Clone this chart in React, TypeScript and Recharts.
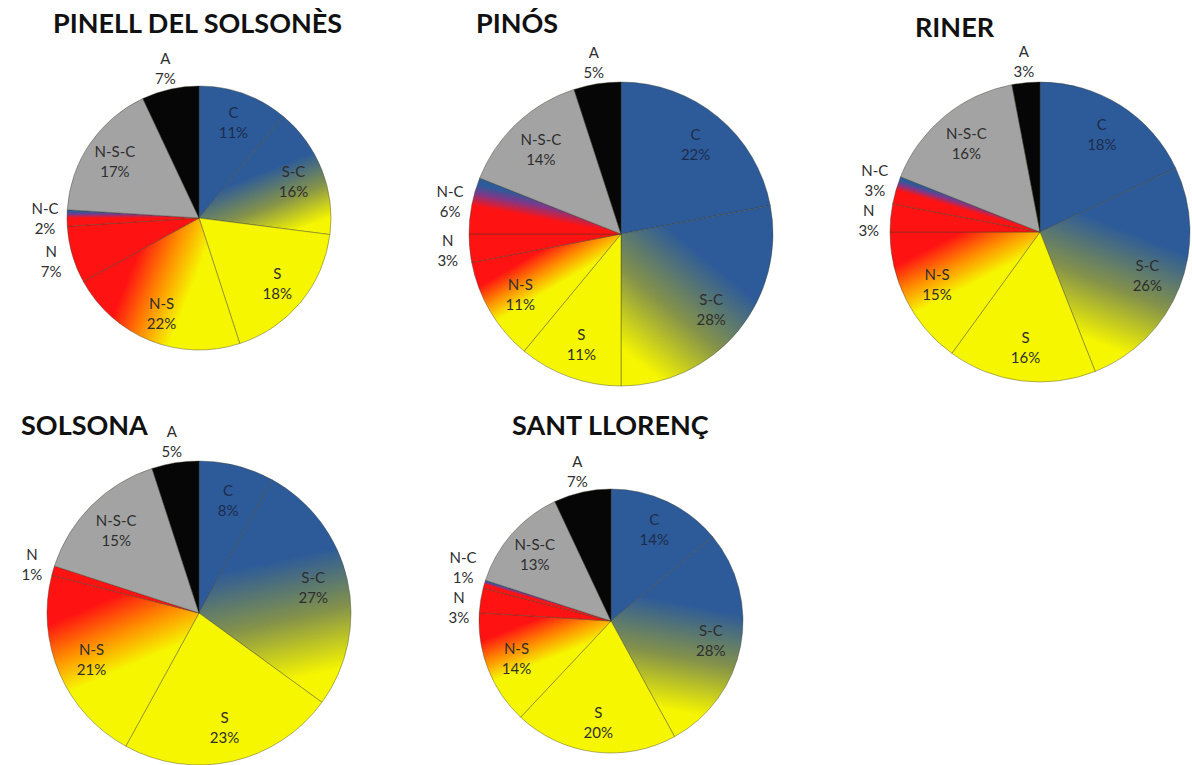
import { PieChart, Pie, Cell } from 'recharts';

const CATEGORIES = ['C', 'S-C', 'S', 'N-S', 'N', 'N-C', 'N-S-C', 'A'];
const TOWNS = ['PINELL DEL SOLSONÈS', 'PINÓS', 'RINER', 'SOLSONA', 'SANT LLORENÇ'];

// percentages per town, same order as CATEGORIES
const PINELL = [11, 16, 18, 22, 7, 2, 17, 7];
const PINOS = [22, 28, 11, 11, 3, 6, 14, 5];
const RINER = [18, 26, 16, 15, 3, 3, 16, 3];
const SOLSONA = [8, 27, 23, 21, 1, 0, 15, 5];
const SANT_LLORENC = [14, 28, 20, 14, 3, 1, 13, 7];
const VALUES = [PINELL, PINOS, RINER, SOLSONA, SANT_LLORENC];

const W = 1192;
const H = 765;
const FONT = 'Lato, "Open Sans", sans-serif';

const LAYOUT = [
  { cx: 199, cy: 218, r: 132, tx: 53, ty: 33 },
  { cx: 621, cy: 234, r: 152, tx: 476, ty: 33 },
  { cx: 1040, cy: 232, r: 150, tx: 915, ty: 37 },
  { cx: 199, cy: 613, r: 152, tx: 21, ty: 435 },
  { cx: 611, cy: 621, r: 132, tx: 512, ty: 435 },
];

const BLUE = '#2d5b99';
const YELLOW = '#f6f600';
const RED = '#ff1212';
const GRAY = '#a3a3a3';
const BLACK = '#060606';
const OLIVE = '#84924a';
const ORANGE = '#ff8a00';

const SOLID: Record<string, string> = { C: BLUE, S: YELLOW, N: RED, 'N-S-C': GRAY, A: BLACK };
// angular blends: colour at the start edge -> colour at the end edge (clockwise)
const BLENDS: Record<string, [number, string][]> = {
  'S-C': [[0, BLUE], [0.3, BLUE], [0.65, OLIVE], [1, YELLOW]],
  'N-S': [[0, YELLOW], [0.35, YELLOW], [0.6, ORANGE], [0.85, RED], [1, RED]],
  'N-C': [[0, RED], [0.5, RED], [0.8, '#7a3a8a'], [1, BLUE]],
};

const OUTSIDE_BELOW = 8;
const MIN_GAP = 40;

const polar = (cx: number, cy: number, r: number, deg: number) => {
  const a = (deg * Math.PI) / 180;
  return { x: cx + r * Math.cos(a), y: cy - r * Math.sin(a) };
};

const pieData = (vals: number[]) =>
  CATEGORIES.map((name, i) => ({ name, value: vals[i] })).filter((d) => d.value > 0);

const angles = (vals: number[]) => {
  const data = pieData(vals);
  const total = data.reduce((s, d) => s + d.value, 0);
  let cum = 0;
  return data.map((d) => {
    const s = 90 - (360 * cum) / total;
    cum += d.value;
    const e = 90 - (360 * cum) / total;
    return { name: d.name, value: d.value, s, e, mid: (s + e) / 2 };
  });
};

// place small-slice labels outside and spread them apart when they collide
const outsidePositions = (p: number) => {
  const { cx, cy, r } = LAYOUT[p];
  const items = angles(VALUES[p])
    .filter((a) => a.value < OUTSIDE_BELOW)
    .map((a) => ({ name: a.name, ...polar(cx, cy, r + 22, a.mid) }));
  const sides = [items.filter((i) => i.x < cx), items.filter((i) => i.x >= cx)];
  sides.forEach((side) => {
    side.sort((a, b) => a.y - b.y);
    for (let k = 0; k < 10; k++) {
      for (let j = 1; j < side.length; j++) {
        const gap = side[j].y - side[j - 1].y;
        if (gap < MIN_GAP) {
          const d = (MIN_GAP - gap) / 2;
          side[j - 1].y -= d;
          side[j].y += d;
        }
      }
    }
  });
  const map: Record<string, { x: number; y: number }> = {};
  items.forEach((i) => (map[i.name] = { x: i.x, y: i.y }));
  return map;
};

const OUTSIDE = VALUES.map((_, p) => outsidePositions(p));

const gradId = (p: number, name: string) => `g${p}-${name.replace(/-/g, '')}`;

const fillFor = (p: number, name: string) => SOLID[name] ?? `url(#${gradId(p, name)})`;

const makeLabel = (p: number) => (props: any) => {
  const { cx, cy, midAngle, outerRadius, name, value } = props;
  if (!value) return null;
  const out = OUTSIDE[p][name];
  const pt = out ?? polar(cx, cy, outerRadius * 0.77, midAngle);
  const ink = name === 'C' ? '#1c2c4c' : '#2e2e2e';
  return (
    <text x={pt.x} y={pt.y - 4} textAnchor="middle" fontFamily={FONT} fontSize={15} fill={ink}>
      <tspan x={pt.x}>{name}</tspan>
      <tspan x={pt.x} dy={20}>{value}%</tspan>
    </text>
  );
};

function Gradients() {
  return (
    <defs>
      {VALUES.map((vals, p) => {
        const { cx, cy, r } = LAYOUT[p];
        return angles(vals)
          .filter((a) => BLENDS[a.name])
          .map((a) => {
            const p1 = polar(cx, cy, r * 0.75, a.s);
            const p2 = polar(cx, cy, r * 0.75, a.e);
            return (
              <linearGradient
                key={gradId(p, a.name)}
                id={gradId(p, a.name)}
                gradientUnits="userSpaceOnUse"
                x1={p1.x}
                y1={p1.y}
                x2={p2.x}
                y2={p2.y}
              >
                {BLENDS[a.name].map(([o, c]) => (
                  <stop key={o} offset={o} stopColor={c} />
                ))}
              </linearGradient>
            );
          });
      })}
    </defs>
  );
}

export default function App() {
  return (
    <div style={{ position: 'absolute', left: 0, top: 0, width: W, height: H, background: '#fff' }}>
      <svg width={0} height={0} style={{ position: 'absolute' }}>
        <Gradients />
      </svg>
      <PieChart width={W} height={H} margin={{ top: 0, right: 0, bottom: 0, left: 0 }}>
        {VALUES.map((vals, p) => (
          <Pie
            key={TOWNS[p]}
            data={pieData(vals)}
            dataKey="value"
            nameKey="name"
            cx={LAYOUT[p].cx}
            cy={LAYOUT[p].cy}
            outerRadius={LAYOUT[p].r}
            startAngle={90}
            endAngle={-270}
            stroke="rgba(60,60,40,0.4)"
            strokeWidth={1}
            label={makeLabel(p)}
            labelLine={false}
            isAnimationActive={false}
          >
            {pieData(vals).map((d) => (
              <Cell key={d.name} fill={fillFor(p, d.name)} />
            ))}
          </Pie>
        ))}
      </PieChart>
      <svg width={W} height={H} style={{ position: 'absolute', left: 0, top: 0, pointerEvents: 'none' }}>
        {TOWNS.map((t, p) => (
          <text key={t} x={LAYOUT[p].tx} y={LAYOUT[p].ty} fontFamily={FONT} fontWeight={700} fontSize={27} fill="#111">
            {t}
          </text>
        ))}
      </svg>
    </div>
  );
}
